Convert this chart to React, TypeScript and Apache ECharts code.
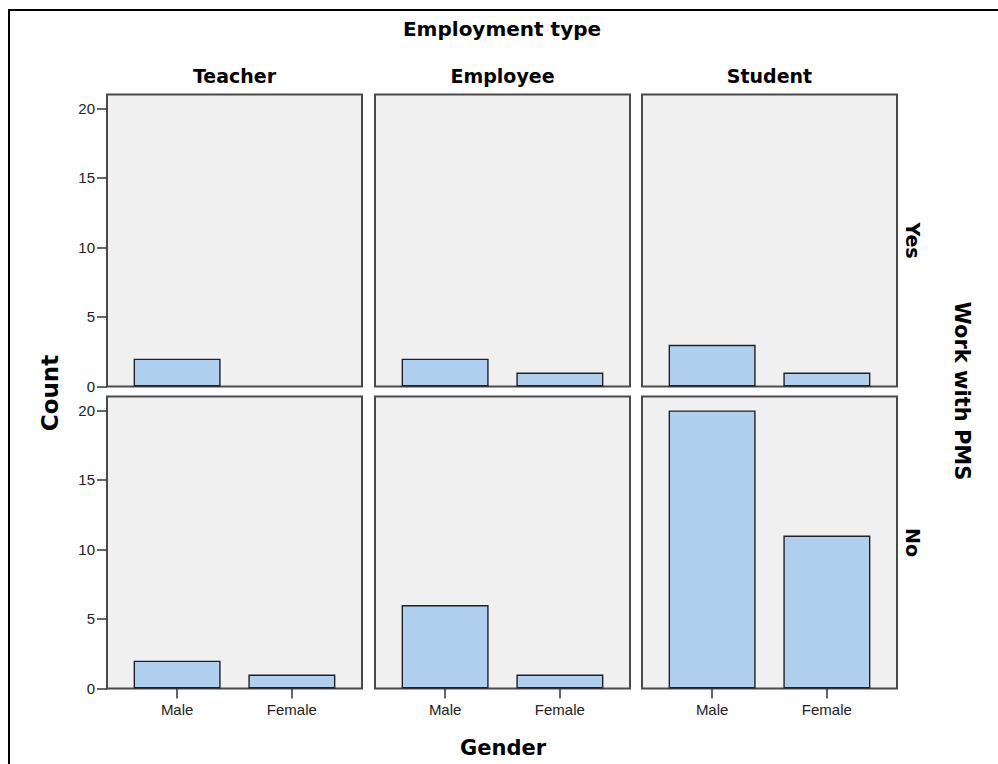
import React, { useEffect, useRef } from "react";
import * as echarts from "echarts";

const genders = ["Male", "Female"];
const employmentTypes = ["Teacher", "Employee", "Student"];
const pmsLevels = ["Yes", "No"];
// counts per employment column: [Male, Female]
const yesCounts: (number | null)[][] = [
  [2, null],
  [2, 1],
  [3, 1],
];
const noCounts: (number | null)[][] = [
  [2, 1],
  [6, 1],
  [20, 11],
];
const yTicks = [0, 5, 10, 15, 20];

const COL_X = [107, 375, 642];
const ROW_Y = [94.5, 396.5];
const PW = 255;
const PH = 292;
const INSET = 12.75;
const TITLE_FONT = "'DejaVu Sans', Verdana, sans-serif";
const TICK_FONT = "'Liberation Sans', Arial, sans-serif";

export default function App() {
  const ref = useRef<HTMLDivElement>(null);
  useEffect(() => {
    const chart = echarts.init(ref.current!, null, { renderer: "svg" });
    const rows = [yesCounts, noCounts];
    const grids: any[] = [];
    const xAxes: any[] = [];
    const yAxes: any[] = [];
    const series: any[] = [];
    const graphics: any[] = [];

    graphics.push({
      type: "rect",
      shape: { x: 9, y: 10, width: 1100, height: 900 },
      style: { fill: "none", stroke: "#000", lineWidth: 2 },
      z: 0,
    });

    rows.forEach((rowData, r) => {
      rowData.forEach((vals, c) => {
        const idx = r * 3 + c;
        const px = COL_X[c];
        const py = ROW_Y[r];
        graphics.push({
          type: "rect",
          shape: { x: px, y: py, width: PW, height: PH },
          style: { fill: "#f0f0f0", stroke: "#4a4a4a", lineWidth: 2 },
          z: 0,
        });
        grids.push({
          left: px + INSET,
          top: py,
          width: PW - 2 * INSET,
          height: PH,
          containLabel: false,
        });
        const bottom = r === 1;
        xAxes.push({
          type: "category",
          gridIndex: idx,
          data: genders,
          axisLine: { show: false },
          axisTick: {
            show: bottom,
            alignWithLabel: true,
            length: 10,
            lineStyle: { color: "#333", width: 1.5 },
          },
          axisLabel: {
            show: bottom,
            fontSize: 15,
            fontFamily: TICK_FONT,
            color: "#222",
            margin: 13,
          },
          splitLine: { show: false },
        });
        const left = c === 0;
        yAxes.push({
          type: "value",
          gridIndex: idx,
          min: 0,
          max: 21,
          interval: 5,
          show: left,
          offset: INSET,
          axisLine: { show: false },
          axisTick: {
            show: true,
            length: 10,
            customValues: yTicks,
            lineStyle: { color: "#333", width: 1.5 },
          },
          axisLabel: {
            fontSize: 15,
            fontFamily: TICK_FONT,
            color: "#222",
            margin: 12,
            customValues: yTicks,
          },
          splitLine: { show: false },
        });
        series.push({
          type: "bar",
          xAxisIndex: idx,
          yAxisIndex: idx,
          data: vals.map((v) => (v === null ? "-" : v)),
          barWidth: 87,
          itemStyle: { color: "#aecfee", borderColor: "#222", borderWidth: 1.4 },
          z: 3,
        });
      });
    });

    employmentTypes.forEach((t, c) => {
      graphics.push({
        type: "text",
        x: COL_X[c] + PW / 2,
        y: 76,
        style: {
          text: t,
          font: `bold 19px ${TITLE_FONT}`,
          fill: "#000",
          textAlign: "center",
          textVerticalAlign: "middle",
        },
      });
    });
    pmsLevels.forEach((t, r) => {
      graphics.push({
        type: "text",
        x: 913,
        y: ROW_Y[r] + PH / 2,
        rotation: -Math.PI / 2,
        style: {
          text: t,
          font: `bold 19px ${TITLE_FONT}`,
          fill: "#000",
          textAlign: "center",
          textVerticalAlign: "middle",
        },
      });
    });
    graphics.push(
      {
        type: "text",
        x: 502,
        y: 29,
        style: {
          text: "Employment type",
          font: `bold 20px ${TITLE_FONT}`,
          fill: "#000",
          textAlign: "center",
          textVerticalAlign: "middle",
        },
      },
      {
        type: "text",
        x: 50,
        y: 393,
        rotation: Math.PI / 2,
        style: {
          text: "Count",
          font: `bold 23px ${TITLE_FONT}`,
          fill: "#000",
          textAlign: "center",
          textVerticalAlign: "middle",
        },
      },
      {
        type: "text",
        x: 503,
        y: 748,
        style: {
          text: "Gender",
          font: `bold 21px ${TITLE_FONT}`,
          fill: "#000",
          textAlign: "center",
          textVerticalAlign: "middle",
        },
      },
      {
        type: "text",
        x: 962,
        y: 391,
        rotation: -Math.PI / 2,
        style: {
          text: "Work with PMS",
          font: `bold 21px ${TITLE_FONT}`,
          fill: "#000",
          textAlign: "center",
          textVerticalAlign: "middle",
        },
      }
    );

    chart.setOption({
      animation: false,
      backgroundColor: "#fff",
      grid: grids,
      xAxis: xAxes,
      yAxis: yAxes,
      series,
      graphic: { elements: graphics },
    });
    return () => chart.dispose();
  }, []);
  return (
    <div
      ref={ref}
      style={{ position: "fixed", left: 0, top: 0, width: 998, height: 764 }}
    />
  );
}
